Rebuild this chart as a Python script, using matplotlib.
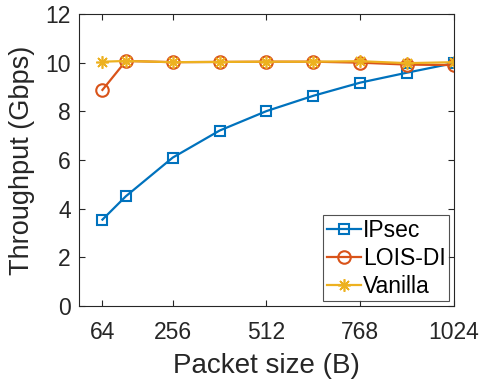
import matplotlib
matplotlib.use("Agg")
import matplotlib.pyplot as plt

plt.rcParams['font.family'] = ['Liberation Sans', 'DejaVu Sans']

packet_sizes = [64, 128, 256, 384, 512, 640, 768, 896, 1024]
ipsec = [3.55, 4.51, 6.10, 7.21, 8.01, 8.64, 9.18, 9.59, 9.98]
lois_di = [8.88, 10.07, 10.02, 10.03, 10.04, 10.04, 10.00, 9.92, 9.90]
vanilla = [10.04, 10.07, 10.02, 10.03, 10.04, 10.04, 10.06, 9.98, 10.02]

x_ticks = [64, 256, 512, 768, 1024]
y_ticks = [0, 2, 4, 6, 8, 10, 12]

fig = plt.figure(figsize=(4.85, 3.86), dpi=100)
ax = fig.add_axes([79 / 485, 1 - 306 / 386, (454 - 79) / 485, (306 - 14) / 386])

ax.plot(packet_sizes, ipsec, color='#0072BD', lw=1.6, marker='s', ms=6.5,
        mfc='none', mew=1.5, label='IPsec')
ax.plot(packet_sizes, lois_di, color='#D95319', lw=1.6, marker='o', ms=9,
        mfc='none', mew=1.5, label='LOIS-DI')
ax.plot(packet_sizes, vanilla, color='#EDB120', lw=1.6, marker=(8, 2, 0), ms=9,
        mew=1.2, label='Vanilla')

ax.set_xlim(0, 1024)
ax.set_ylim(0, 12)
ax.set_xticks(x_ticks)
ax.set_yticks(y_ticks)
ax.tick_params(direction='in', top=True, right=True, length=4, width=0.8,
               labelsize=16.5, colors='#262626')
ax.tick_params(axis='x', pad=10.5)
ax.tick_params(axis='y', pad=6)
for s in ax.spines.values():
    s.set_color('#262626')
    s.set_linewidth(0.8)

ax.set_xlabel('Packet size (B)', fontsize=20, color='#262626', labelpad=7)
ax.set_ylabel('Throughput (Gbps)', fontsize=19.5, color='#262626', labelpad=7)

leg = ax.legend(loc='lower right', fontsize=16.5, frameon=True, fancybox=False,
                edgecolor='#262626', borderpad=0.15, labelspacing=0.22,
                handlelength=1.5, handletextpad=0.1, borderaxespad=0.2)
leg.get_frame().set_linewidth(0.8)

fig.savefig('out.png', dpi=100)
